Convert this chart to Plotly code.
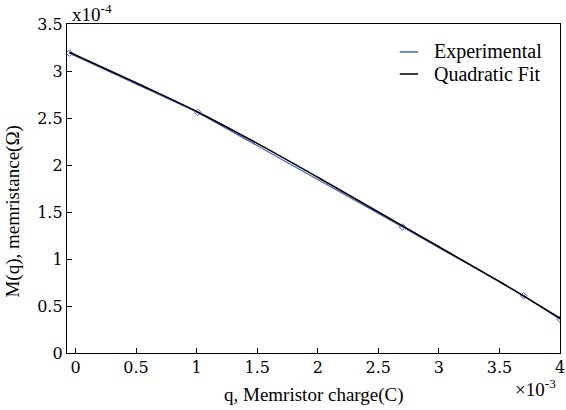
import plotly.graph_objects as go

# Experimental data (q in 1e-3 C, M in 1e-4 units)
exp_q = [-0.05, 1.01, 2.70, 3.70, 4.00]
exp_m = [3.19, 2.56, 1.34, 0.61, 0.36]

# Quadratic fit curve
fit_q = [-0.05, 0.5, 1.0, 1.5, 2.0, 2.5, 3.0, 3.5, 4.0]
fit_m = [3.20, 2.875, 2.57, 2.23, 1.87, 1.50, 1.13, 0.76, 0.37]

x_ticks = [0, 0.5, 1, 1.5, 2, 2.5, 3, 3.5, 4]
y_ticks = [0, 0.5, 1, 1.5, 2, 2.5, 3, 3.5]

series_names = ["Experimental", "Quadratic Fit"]
series_colors = ["#3f5fc8", "black"]

TXT = "Liberation Serif"
TICK = "DejaVu Serif"

fig = go.Figure()
fig.add_trace(go.Scatter(
    x=exp_q, y=exp_m, mode="lines+markers", name=series_names[0],
    line=dict(color=series_colors[0], width=1.2),
    marker=dict(symbol="diamond-open", size=5, color=series_colors[0], line=dict(width=1)),
    showlegend=False,
))
fig.add_trace(go.Scatter(
    x=fit_q, y=fit_m, mode="lines", name=series_names[1],
    line=dict(color=series_colors[1], width=1.6, shape="spline"),
    showlegend=False,
))

axis_common = dict(
    showgrid=False, zeroline=False, showline=True, linecolor="black", linewidth=1.3,
    mirror=True, ticks="inside", ticklen=5, tickwidth=1.3, tickcolor="black",
    tickfont=dict(family=TICK, size=16, color="black"), automargin=False,
)

# Manual legend (short line samples like the reference)
shapes = []
annotations = []
leg_rows = [0.915, 0.848]
for name, color, yy in zip(series_names, series_colors, leg_rows):
    shapes.append(dict(type="line", xref="paper", yref="paper",
                       x0=0.675, x1=0.712, y0=yy, y1=yy,
                       line=dict(color=color, width=1.5)))
    annotations.append(dict(text=name, xref="paper", yref="paper",
                            x=0.740, y=yy, xanchor="left", yanchor="middle",
                            showarrow=False,
                            font=dict(family=TXT, size=20, color="black")))

annotations += [
    dict(text="M(q), memristance(Ω)", xref="paper", yref="paper",
         x=0, y=0.43, xshift=-54, textangle=-90, showarrow=False,
         xanchor="center", yanchor="middle",
         font=dict(family=TXT, size=19, color="black")),
    dict(text="q, Memristor charge(C)", xref="paper", yref="paper",
         x=0.5, y=0, yshift=-42, showarrow=False, yanchor="middle",
         font=dict(family=TXT, size=19, color="black")),
    dict(text="x10<sup>-4</sup>", xref="paper", yref="paper",
         x=0, y=1, xanchor="left", yanchor="middle", xshift=3, yshift=11,
         showarrow=False, font=dict(family=TXT, size=19, color="black")),
    dict(text="×10<sup>-3</sup>", xref="paper", yref="paper",
         x=1, y=0, xanchor="right", yanchor="middle", xshift=-2, yshift=-35,
         showarrow=False, font=dict(family=TXT, size=19, color="black")),
]

fig.update_layout(
    width=566, height=410,
    margin=dict(l=67, r=6, t=24, b=57, autoexpand=False),
    paper_bgcolor="white", plot_bgcolor="white",
    font=dict(family=TXT, color="black"),
    xaxis=dict(range=[-0.07, 4.0], tickvals=x_ticks,
               ticktext=[f"{v:g}" for v in x_ticks], **axis_common),
    yaxis=dict(range=[0, 3.5], tickvals=y_ticks,
               ticktext=[f"{v:g}" for v in y_ticks], **axis_common),
    showlegend=False,
    shapes=shapes,
    annotations=annotations,
)

fig.write_html("out.html")
